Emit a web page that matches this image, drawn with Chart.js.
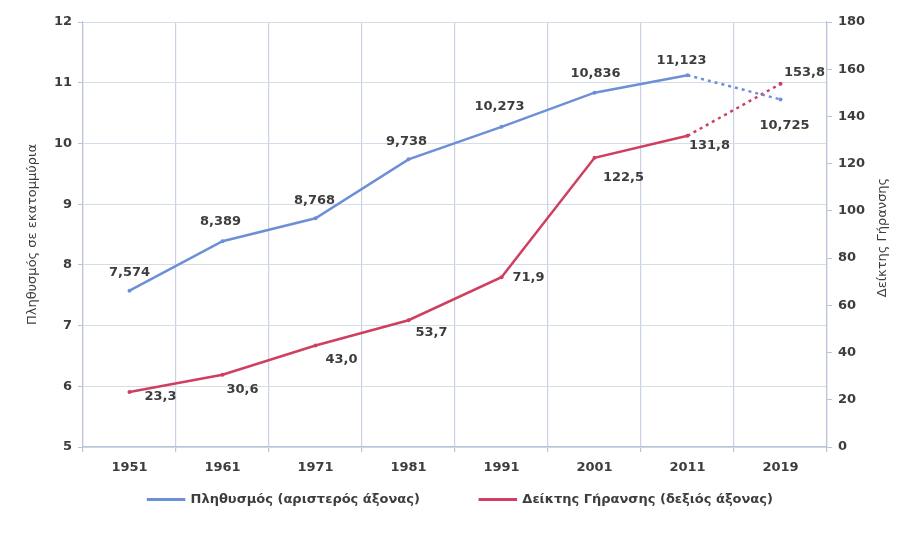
<!DOCTYPE html>
<html>
<head>
<meta charset="utf-8">
<script src="https://cdn.jsdelivr.net/npm/chart.js@4/dist/chart.umd.min.js"></script>
<style>
html,body{margin:0;padding:0;background:#fff;}
#wrap{width:921px;height:542px;position:relative;}
</style>
</head>
<body>
<div id="wrap"><canvas id="c" width="921" height="542"></canvas></div>
<script>
const categories = ['1951','1961','1971','1981','1991','2001','2011','2019'];
const population = [7.574, 8.389, 8.768, 9.738, 10.273, 10.836, 11.123, 10.725];
const ageingIndex = [23.3, 30.6, 43.0, 53.7, 71.9, 122.5, 131.8, 153.8];
const leftTicks = [5, 6, 7, 8, 9, 10, 11, 12];
const rightTicks = [0, 20, 40, 60, 80, 100, 120, 140, 160, 180];
const popName = 'Πληθυσμός (αριστερός άξονας)';
const ageName = 'Δείκτης Γήρανσης (δεξιός άξονας)';
const leftTitle = 'Πληθυσμός σε εκατομμύρια';
const rightTitle = 'Δείκτης Γήρανσης';

const BLUE = '#6d8fd6';
const RED = '#cf3f5f';
const TEXT = '#3d3d3d';
const GRID = '#d6dcea';
const AXIS = '#b9c3da';

// label offsets (style): dx, dy from the point
const popOffsets = [[0,-18],[-2,-20],[-1,-18],[-2,-18],[-2,-20],[1,-19],[-6,-15],[4,26]];
const ageOffsets = [[31,5],[20,15],[26,14],[23,12],[27,0],[29,20],[22,10],[24,-11]];

const LEGEND_PAD = 60;

const labelPlugin = {
  id: 'valueLabels',
  afterInit(chart) {
    const lg = chart.legend;
    if (!lg) return;
    const origFit = lg.fit.bind(lg);
    lg.fit = function () { origFit(); this.height = 59; };
    const origDraw = lg.draw.bind(lg);
    lg.draw = function () {
      const t = this.top;
      this.top = t - (LEGEND_PAD - 10);
      origDraw();
      this.top = t;
    };
  },
  afterDatasetsDraw(chart) {
    const ctx = chart.ctx;
    ctx.save();
    ctx.font = 'bold 13px "DejaVu Sans"';
    ctx.fillStyle = TEXT;
    ctx.textAlign = 'center';
    ctx.textBaseline = 'middle';
    chart.data.datasets.forEach((ds, di) => {
      const meta = chart.getDatasetMeta(di);
      const offs = di === 0 ? popOffsets : ageOffsets;
      meta.data.forEach((pt, i) => {
        const v = ds.data[i];
        const txt = di === 0 ? v.toFixed(3).replace('.', ',') : v.toFixed(1).replace('.', ',');
        ctx.fillText(txt, pt.x + offs[i][0], pt.y + offs[i][1]);
      });
    });
    // right axis title, reading bottom to top
    const ys = chart.scales.y2;
    ctx.font = '13px "DejaVu Sans"';
    ctx.translate(883, (ys.top + ys.bottom) / 2 + 3);
    ctx.rotate(-Math.PI / 2);
    ctx.fillText(rightTitle, 0, 0);
    ctx.restore();
  }
};

const dashLast = (ctx) => ctx.p1DataIndex === categories.length - 1 ? [3, 4] : undefined;

new Chart(document.getElementById('c'), {
  type: 'line',
  data: {
    labels: categories,
    datasets: [
      {
        label: popName,
        data: population,
        yAxisID: 'y',
        borderColor: BLUE,
        backgroundColor: BLUE,
        borderWidth: 2.5,
        pointRadius: 2,
        pointBackgroundColor: BLUE,
        pointBorderWidth: 0,
        tension: 0,
        segment: { borderDash: dashLast }
      },
      {
        label: ageName,
        data: ageingIndex,
        yAxisID: 'y2',
        borderColor: RED,
        backgroundColor: RED,
        borderWidth: 2.5,
        pointRadius: 2,
        pointBackgroundColor: RED,
        pointBorderWidth: 0,
        tension: 0,
        segment: { borderDash: dashLast }
      }
    ]
  },
  options: {
    responsive: false,
    animation: false,
    layout: { padding: { top: 22, left: 0, right: 0, bottom: 0 } },
    plugins: {
      legend: {
        position: 'bottom',
        labels: {
          boxWidth: 36,
          boxHeight: 0.5,
          padding: LEGEND_PAD,
          color: TEXT,
          font: { family: '"DejaVu Sans"', size: 13, weight: 'bold' }
        }
      },
      tooltip: { enabled: false }
    },
    scales: {
      x: {
        offset: true,
        grid: { offset: true, color: '#c9d1e4', lineWidth: 1.2, tickLength: 5, tickColor: AXIS, drawOnChartArea: true },
        border: { color: AXIS, width: 1.2 },
        ticks: { color: TEXT, padding: 8, font: { family: '"DejaVu Sans"', size: 13, weight: 'bold' } },
        afterFit(s) { s.height = 36; }
      },
      y: {
        position: 'left',
        min: 5, max: 12,
        afterBuildTicks(s) { s.ticks = leftTicks.map(v => ({ value: v })); },
        grid: { color: GRID, tickLength: 5, tickColor: AXIS },
        border: { color: AXIS, width: 1.2 },
        ticks: { color: TEXT, padding: 6, font: { family: '"DejaVu Sans"', size: 13, weight: 'bold' } },
        title: { display: true, text: leftTitle, color: TEXT, padding: { top: 25, bottom: 0 }, font: { family: '"DejaVu Sans"', size: 13 } },
        afterFit(s) { s.width = 83; }
      },
      y2: {
        position: 'right',
        min: 0, max: 180,
        afterBuildTicks(s) { s.ticks = rightTicks.map(v => ({ value: v })); },
        grid: { drawOnChartArea: false, tickLength: 5, tickColor: AXIS },
        border: { color: AXIS, width: 1.2 },
        ticks: { color: TEXT, padding: 6, font: { family: '"DejaVu Sans"', size: 13, weight: 'bold' } },
        afterFit(s) { s.width = 94; }
      }
    }
  },
  plugins: [labelPlugin]
});
</script>
</body>
</html>
